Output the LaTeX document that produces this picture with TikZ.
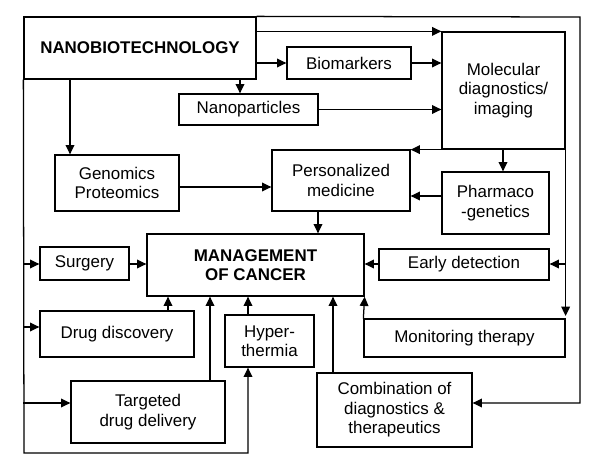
\documentclass[tikz,border=0pt]{standalone}
\usepackage{fontspec}
\setmainfont{Liberation Sans}
\usetikzlibrary{arrows.meta}
\newcommand\bx[6]{\node[box, minimum width={(#4-#2)*0.75pt}, minimum height={(#5-#3)*0.75pt}] (#1) at ({(#2+#4)/2},{(#3+#5)/2}) {#6};}
\begin{document}
\begin{tikzpicture}[x=0.75pt,y=-0.75pt,
  box/.style={draw, line width=0.95pt, rectangle, inner sep=0pt, align=center, font=\fontsize{12.7}{14.6}\selectfont},
  arr/.style={line width=0.95pt, -{Triangle[length=7pt,width=6.5pt]}},
  ln/.style={line width=0.95pt}]
\useasboundingbox (0,0) rectangle (600,468);
\fill[white] (0,0) rectangle (600,468);
\bx{nano}{24}{17}{256}{79}{\textbf{NANOBIOTECHNOLOGY}}
\bx{bio}{287}{47}{411}{79}{Biomarkers}
\bx{nanop}{179}{94}{318}{125}{Nanoparticles}
\bx{mol}{442}{32}{565}{149}{Molecular\\diagnostics/\\imaging}
\bx{geno}{55}{155}{179}{211}{Genomics\\Proteomics}
\bx{pers}{272}{150}{410}{211}{Personalized\\medicine}
\bx{pharm}{442}{172}{549}{234}{Pharmaco\\-genetics}
\bx{mgmt}{147}{234}{364}{296}{\textbf{MANAGEMENT}\\\textbf{OF CANCER}}
\bx{surg}{40}{247}{129}{280}{Surgery}
\bx{early}{379}{249}{549}{280}{Early detection}
\bx{drug}{40}{311}{194}{357}{Drug discovery}
\bx{hyper}{225}{315}{314}{367}{Hyper-\\thermia}
\bx{monit}{364}{319}{565}{357}{Monitoring therapy}
\bx{targ}{71}{381}{225}{443}{Targeted\\drug delivery}
\bx{comb}{317}{373}{472}{447}{Combination of\\diagnostics \&\\therapeutics}
\coordinate (tr) at (580,17);
\coordinate (bl) at (24,453);
% outer top/right loop
\draw[arr] (nano.north east) -- (tr) |- (comb.east |- 0,403);
% outer left/bottom loop
\draw[arr] (nano.south west) -- (bl) -| (hyper.south -| 248,0);
\draw[arr] (nano.south west |- 0,264) -- (surg.west |- 0,264);
\draw[arr] (nano.south west |- 0,327) -- (drug.west |- 0,327);
\draw[arr] (nano.south west |- 0,403) -- (targ.west |- 0,403);
% from nanobiotechnology
\draw[arr] (nano.east |- mol.north) -- (mol.north west);
\draw[arr] (nano.east |- bio.west) -- (bio.west);
\draw[arr] (nano.south -| 240,0) -- (nanop.north -| 240,0);
\draw[arr] (nano.south -| 70,0) -- (geno.north -| 70,0);
% to molecular
\draw[arr] (bio.east) -- (mol.west |- bio.east);
\draw[arr] (nanop.east) -- (mol.west |- nanop.east);
% from molecular
\draw[arr] (mol.south west) -- (pers.north east |- mol.south west);
\draw[arr] (mol.south -| 503,0) -- (pharm.north -| 503,0);
\draw[arr] (mol.south east) -- (monit.north east |- 0,316);
\draw[arr] (mol.south east |- 0,264) -- (early.east |- 0,264);
% to personalized
\draw[arr] (geno.east |- 0,187) -- (pers.west |- 0,187);
\draw[arr] (pharm.west |- 0,196) -- (pers.east |- 0,196);
% to management
\draw[arr] (pers.south -| 318,0) -- (mgmt.north -| 318,0);
\draw[arr] (surg.east |- 0,264) -- (mgmt.west |- 0,264);
\draw[arr] (early.west |- 0,264) -- (mgmt.east |- 0,264);
\draw[arr] (drug.north -| 168,0) -- (mgmt.south -| 168,0);
\draw[arr] (targ.north -| 210,0) -- (mgmt.south -| 210,0);
\draw[arr] (hyper.north -| 248,0) -- (mgmt.south -| 248,0);
\draw[arr] (comb.north -| 333,0) -- (mgmt.south -| 333,0);
\draw[arr] (monit.north west) -- (mgmt.south east);
\end{tikzpicture}
\end{document}
